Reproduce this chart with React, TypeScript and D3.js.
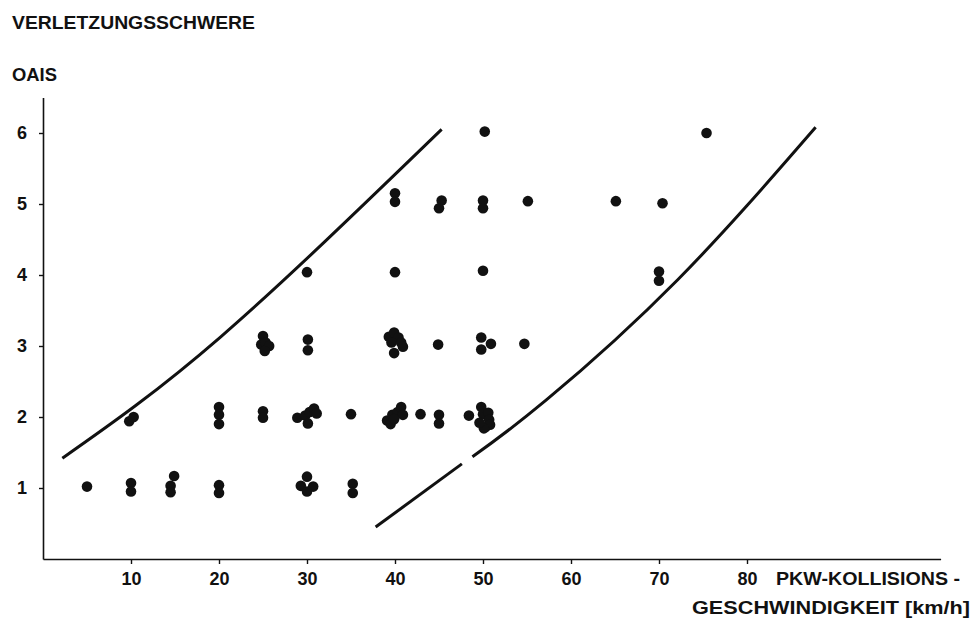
import * as d3 from "d3";
import { useEffect, useRef } from "react";

// Kollisionsgeschwindigkeit (km/h) und OAIS je Fall
const speed = [
  5.0, 10, 10, 14.9, 14.5, 14.5, 20, 20, 30, 29.3, 30.7, 30, 35.2, 35.2,
  9.8, 10.3, 20, 20, 20, 25, 25, 28.9, 29.8, 30.3, 30.8, 31.1, 30.1, 35, 39.1, 39.5, 39.7, 40.3, 40.7, 40.9, 39.9, 42.9, 45, 45, 48.4, 49.8, 50, 50.6, 50.7, 50.3, 50.8, 50.1, 49.6,
  25, 24.8, 25.3, 25.7, 25.2, 30.1, 30.1, 39.3, 39.9, 40.4, 39.6, 40.7, 40.9, 39.9, 44.9, 49.8, 50.9, 49.8, 54.7,
  30, 40, 50, 70, 70,
  40, 40, 45.3, 45, 50, 50, 55.1, 65.1, 70.4,
  50.2, 75.4,
];
const oais = [
  1.02, 1.07, 0.95, 1.17, 1.03, 0.94, 1.04, 0.93, 1.16, 1.03, 1.02, 0.95, 1.06, 0.93,
  1.94, 2.0, 2.14, 2.03, 1.9, 2.08, 1.99, 1.99, 2.02, 2.07, 2.12, 2.05, 1.91, 2.04, 1.95, 1.9, 2.03, 2.07, 2.14, 2.03, 1.97, 2.04, 2.03, 1.91, 2.02, 2.14, 2.04, 2.06, 1.96, 1.86, 1.89, 1.84, 1.92,
  3.14, 3.02, 3.05, 3.0, 2.93, 3.09, 2.94, 3.13, 3.19, 3.12, 3.05, 3.05, 2.99, 2.9, 3.02, 3.12, 3.03, 2.95, 3.03,
  4.04, 4.04, 4.06, 4.05, 3.92,
  5.15, 5.03, 5.05, 4.94, 5.05, 4.94, 5.04, 5.04, 5.01,
  6.02, 6.0,
];

// Grenzkurven
const upperX = [2.2, 20.2, 45.3];
const upperY = [1.42, 3.13, 6.05];
const lowerAX = [37.8, 47.6];
const lowerAY = [0.45, 1.34];
const lowerBX = [48.8, 57.2, 72.1, 87.8];
const lowerBY = [1.44, 2.24, 3.93, 6.08];

const xTicks = [10, 20, 30, 40, 50, 60, 70, 80];
const yTicks = [1, 2, 3, 4, 5, 6];

const font = "'Liberation Sans', Arial, sans-serif";

export default function App() {
  const svgRef = useRef<SVGSVGElement | null>(null);
  const width = 976;
  const height = 623;

  useEffect(() => {
    const svg = d3.select(svgRef.current);
    svg.selectAll("*").remove();

    const x = d3.scaleLinear().domain([0, 102]).range([43, 940.6]);
    const y = d3.scaleLinear().domain([0, 6.5]).range([559, 97.5]);

    // axes
    const gx = svg
      .append("g")
      .attr("transform", `translate(0, ${y(0)})`)
      .call(
        d3.axisBottom(x).tickValues(xTicks).tickSize(5).tickSizeOuter(0).tickPadding(8)
      );
    const gy = svg
      .append("g")
      .attr("transform", `translate(${x(0)}, 0)`)
      .call(
        d3
          .axisLeft(y)
          .tickValues(yTicks)
          .tickFormat(d3.format("d"))
          .tickSize(4)
          .tickSizeOuter(0)
          .tickPadding(12)
      );

    [gx, gy].forEach((g) => {
      g.select(".domain").attr("stroke", "#111").attr("stroke-width", 1.6);
      g.selectAll(".tick line").attr("stroke", "#111").attr("stroke-width", 1.4);
      g.selectAll(".tick text")
        .attr("fill", "#111")
        .style("font-family", font)
        .style("font-weight", "bold")
        .style("font-size", "18px");
    });

    // curves
    const line = d3
      .line<[number, number]>()
      .x((d) => x(d[0]))
      .y((d) => y(d[1]))
      .curve(d3.curveNatural);

    const curves: [number[], number[]][] = [
      [upperX, upperY],
      [lowerAX, lowerAY],
      [lowerBX, lowerBY],
    ];
    svg
      .append("g")
      .selectAll("path")
      .data(curves)
      .join("path")
      .attr("d", (c) => line(c[0].map((v, i) => [v, c[1][i]] as [number, number])))
      .attr("fill", "none")
      .attr("stroke", "#111")
      .attr("stroke-width", 3);

    // points
    svg
      .append("g")
      .selectAll("circle")
      .data(speed)
      .join("circle")
      .attr("cx", (d) => x(d))
      .attr("cy", (_, i) => y(oais[i]))
      .attr("r", 5.3)
      .attr("fill", "#111");

    // labels
    const txt = (s: string, tx: number, ty: number, len?: number) => {
      const t = svg
        .append("text")
        .attr("x", tx)
        .attr("y", ty)
        .attr("fill", "#111")
        .style("font-family", font)
        .style("font-weight", "bold")
        .style("font-size", "18px")
        .text(s);
      if (len) t.attr("textLength", len).attr("lengthAdjust", "spacingAndGlyphs");
    };
    txt("VERLETZUNGSSCHWERE", 12, 29, 243);
    txt("OAIS", 12, 81, 45);
    txt("PKW-KOLLISIONS -", 776, 585, 184);
    txt("GESCHWINDIGKEIT  [km/h]", 692, 614, 278);
  }, []);

  return (
    <div style={{ position: "absolute", left: 0, top: 0, background: "#fff" }}>
      <svg ref={svgRef} width={width} height={height}></svg>
    </div>
  );
}
